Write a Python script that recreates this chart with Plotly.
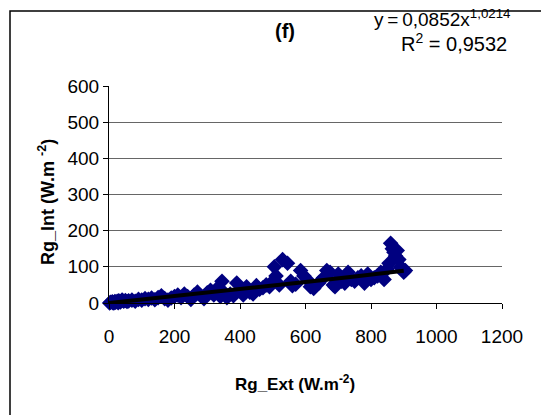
import plotly.graph_objects as go

# Data
rg_ext = [2, 5, 8, 10, 12, 15, 18, 20, 25, 28, 30, 35, 40, 45, 50, 55, 60, 70, 80, 90,
          100, 110, 120, 130, 140, 150, 160, 170, 180, 190, 200, 210, 220, 230, 240, 250,
          260, 270, 280, 290, 300, 310, 320, 330, 340, 345, 350, 360, 370, 380, 390, 400,
          410, 420, 430, 440, 450, 460, 470, 480, 490, 500, 505, 510, 520, 530, 545, 555,
          560, 570, 585, 595, 605, 615, 625, 640, 655, 665, 675, 685, 690, 700, 710, 720,
          730, 740, 750, 760, 770, 780, 790, 800, 810, 820, 830, 840, 850, 855, 860, 865,
          870, 875, 880, 885, 890, 895, 900, 905]
rg_int = [0, 2, -1, 3, 1, 0, 4, 2, 5, 1, 6, 3, 8, 5, 7, 4, 6, 8, 5, 10,
          8, 12, 10, 14, 9, 15, 20, 12, 8, 14, 18, 22, 15, 25, 18, 10,
          22, 30, 20, 12, 28, 35, 22, 40, 18, 60, 30, 15, 25, 20, 55, 35,
          22, 45, 30, 25, 48, 38, 42, 50, 45, 60, 100, 75, 50, 120, 110, 60,
          48, 52, 90, 75, 65, 45, 40, 55, 70, 90, 85, 50, 45, 80, 60, 55,
          85, 65, 60, 70, 75, 55, 80, 65, 70, 75, 85, 65, 95, 110, 165, 150,
          140, 130, 145, 120, 100, 95, 85, 90]

trend_x = [0, 150, 300, 450, 600, 750, 900]
trend_y = [0, 14, 28, 43, 58, 73, 89]

x_ticks = [0, 200, 400, 600, 800, 1000, 1200]
y_ticks = [0, 100, 200, 300, 400, 500, 600]

W, H = 541, 415
L, R, T, B = 109, 39, 86, 112
pw, ph = W - L - R, H - T - B


def px(x):
    return (x - L) / pw


def py(y):
    return (H - B - y) / ph


fig = go.Figure()
fig.add_trace(go.Scatter(
    x=rg_ext, y=rg_int, mode="markers",
    marker=dict(symbol="diamond", size=12, color="#000080",
                line=dict(width=0)),
    showlegend=False, cliponaxis=False))
fig.add_trace(go.Scatter(
    x=trend_x, y=trend_y, mode="lines",
    line=dict(color="black", width=4),
    showlegend=False, cliponaxis=False))

font = "Liberation Sans, Arial, sans-serif"
fig.update_layout(
    width=W, height=H,
    margin=dict(l=L, r=R, t=T, b=B, pad=0),
    paper_bgcolor="white", plot_bgcolor="white",
    font=dict(family=font, color="black", size=19),
    xaxis=dict(range=[0, 1200], tickvals=x_ticks, showgrid=False,
               showline=True, linecolor="black", linewidth=1,
               ticks="outside", ticklen=5, tickcolor="black",
               ticklabelstandoff=11,
               tickfont=dict(size=19), zeroline=False, fixedrange=True),
    yaxis=dict(range=[0, 600], tickvals=y_ticks, showgrid=True,
               gridcolor="#666666", gridwidth=1,
               showline=True, linecolor="black", linewidth=1,
               ticks="outside", ticklen=5, tickcolor="black",
               tickfont=dict(size=19), zeroline=False, fixedrange=True),
    shapes=[dict(type="rect", xref="paper", yref="paper",
                 x0=px(10), x1=px(600), y0=py(500), y1=py(11),
                 line=dict(color="black", width=1.5), fillcolor="rgba(0,0,0,0)")],
    annotations=[
        dict(text="<b>(f)</b>", xref="paper", yref="paper", x=px(285), y=py(31),
             xanchor="center", yanchor="middle", showarrow=False,
             font=dict(size=20)),
        dict(text="y\u2009=\u20090,0852x<sup>1,0214</sup>", xref="paper", yref="paper",
             x=px(513), y=py(18), xanchor="right", yanchor="middle",
             showarrow=False, font=dict(size=19)),
        dict(text="R<sup>2</sup> = 0,9532", xref="paper", yref="paper",
             x=px(509), y=py(42), xanchor="right", yanchor="middle",
             showarrow=False, font=dict(size=20)),
        dict(text="<b>Rg_Int (W.m <sup>-2</sup>)</b>", xref="paper", yref="paper",
             x=px(46), y=py(202), xanchor="center", yanchor="middle",
             textangle=-90, showarrow=False, font=dict(size=18)),
        dict(text="<b>Rg_Ext (W.m<sup>-2</sup>)</b>", xref="paper", yref="paper",
             x=px(295), y=py(383), xanchor="center", yanchor="middle",
             showarrow=False, font=dict(size=17)),
    ],
)

fig.write_html("out.html")
